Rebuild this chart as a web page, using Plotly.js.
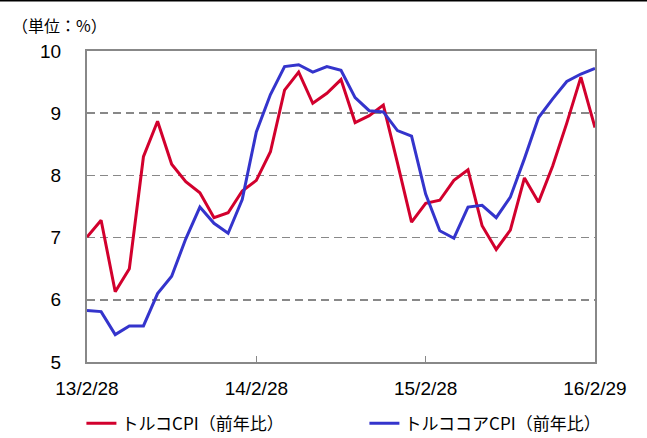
<!DOCTYPE html>
<html>
<head>
<meta charset="utf-8">
<script src="https://cdn.plot.ly/plotly-3.0.1.min.js"></script>
<style>
html,body{margin:0;padding:0;background:#fff;}
#chart{width:647px;height:438px;}
</style>
</head>
<body>
<div id="chart"></div>
<script>
var months = ["2013-02","2013-03","2013-04","2013-05","2013-06","2013-07","2013-08","2013-09","2013-10","2013-11","2013-12",
  "2014-01","2014-02","2014-03","2014-04","2014-05","2014-06","2014-07","2014-08","2014-09","2014-10","2014-11","2014-12",
  "2015-01","2015-02","2015-03","2015-04","2015-05","2015-06","2015-07","2015-08","2015-09","2015-10","2015-11","2015-12",
  "2016-01","2016-02"];
var cpi = [7.01,7.28,6.13,6.50,8.30,8.87,8.18,7.90,7.72,7.32,7.40,7.75,7.92,8.38,9.37,9.66,9.16,9.32,9.54,8.85,8.96,9.13,8.20,
  7.25,7.55,7.60,7.92,8.09,7.19,6.81,7.12,7.96,7.57,8.15,8.84,9.58,8.77];
var coreCpi = [5.83,5.81,5.44,5.58,5.58,6.10,6.38,6.98,7.49,7.23,7.07,7.61,8.70,9.30,9.75,9.78,9.66,9.75,9.69,9.25,9.04,9.02,8.72,
  8.63,7.70,7.11,6.99,7.49,7.52,7.32,7.65,8.27,8.93,9.23,9.51,9.63,9.72];
var tickVals = ["2013-02","2014-02","2015-02","2016-02"];
var tickText = ["13/2/28","14/2/28","15/2/28","16/2/29"];
var seriesNames = ["トルコCPI（前年比）","トルココアCPI（前年比）"];
var unitLabel = "（単位：%）";

var numFont = "'Liberation Sans Narrow', 'Arial Narrow', 'Liberation Sans', sans-serif";
var jpFont = "'Noto Sans CJK JP', sans-serif";

var traces = [
  {x: months, y: cpi, type: 'scatter', mode: 'lines', name: seriesNames[0],
   line: {color: '#D2002D', width: 3}},
  {x: months, y: coreCpi, type: 'scatter', mode: 'lines', name: seriesNames[1],
   line: {color: '#3434CC', width: 3}}
];

var layout = {
  width: 647, height: 438,
  margin: {l: 87, r: 52, t: 51, b: 76, autoexpand: false},
  paper_bgcolor: '#ffffff', plot_bgcolor: '#ffffff',
  showlegend: true,
  legend: {orientation: 'h', x: -0.011, xanchor: 'left', y: -0.198, yanchor: 'middle',
    font: {family: jpFont, size: 17, color: '#000'}, entrywidth: 238, bgcolor: 'rgba(0,0,0,0)',
    borderwidth: 0},
  xaxis: {type: 'category', range: [0, 36], tickvals: tickVals, ticktext: tickText,
    showgrid: false, zeroline: false, showline: true, mirror: true, linecolor: '#888888', linewidth: 2,
    ticks: 'inside', ticklen: 6, tickwidth: 1.5, tickcolor: '#888888',
    tickfont: {family: numFont, size: 19, color: '#000'}, ticklabelstandoff: 8, fixedrange: true},
  yaxis: {range: [5, 10], dtick: 1, tick0: 5, showgrid: true, gridcolor: '#888888', gridwidth: 1.5,
    griddash: '8px,5px', zeroline: false, showline: true, mirror: true, linecolor: '#888888', linewidth: 2,
    ticks: '', tickfont: {family: numFont, size: 19, color: '#000'}, ticklabelstandoff: 20, fixedrange: true},
  annotations: [
    {text: unitLabel, xref: 'paper', yref: 'paper', x: (10 - 87) / 508, y: (362 - 25) / 311,
     xanchor: 'left', yanchor: 'middle', showarrow: false, font: {family: jpFont, size: 16, color: '#000'}}
  ],
  shapes: [
    {type: 'line', xref: 'paper', yref: 'paper', x0: -0.2, x1: 1.2, y0: (362 - 0.5) / 311, y1: (362 - 0.5) / 311,
     line: {color: '#000', width: 2}}
  ]
};

Plotly.newPlot('chart', traces, layout, {displayModeBar: false, staticPlot: true});
</script>
</body>
</html>
